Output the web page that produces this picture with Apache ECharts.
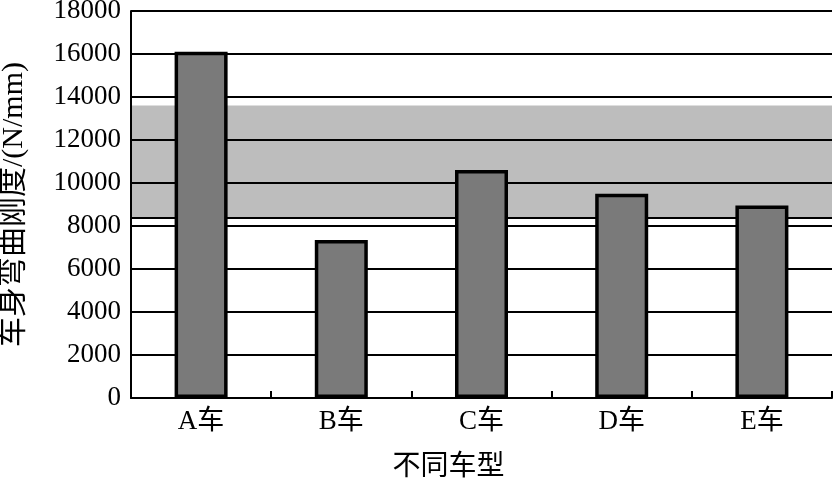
<!DOCTYPE html>
<html>
<head>
<meta charset="utf-8">
<script src="https://cdn.jsdelivr.net/npm/echarts@6/dist/echarts.min.js"></script>
<style>
html,body{margin:0;padding:0;background:#fff;}
#main{width:833px;height:487px;}
</style>
</head>
<body>
<div id="main"></div>
<script>
const categories = ['A车', 'B车', 'C车', 'D车', 'E车'];
const stiffness = [16100, 7350, 10600, 9500, 8950];
const bandRange = [8400, 13600];
const yTicks = { min: 0, max: 18000, interval: 2000 };
const xName = '不同车型';
const yName = '车身弯曲刚度/(N/mm)';

const FONT = '"Liberation Serif", "Noto Sans CJK SC", serif';

const chart = echarts.init(document.getElementById('main'));
chart.setOption({
  backgroundColor: '#ffffff',
  animation: false,
  grid: { left: 131, right: 1, top: 11, bottom: 89, containLabel: false, outerBoundsMode: 'none' },
  xAxis: {
    type: 'category',
    data: categories,
    name: xName,
    nameLocation: 'middle',
    nameGap: 56,
    nameTextStyle: { fontFamily: FONT, fontSize: 28, color: '#000', padding: [0, 66, 0, 0] },
    axisLine: { lineStyle: { color: '#000', width: 2 } },
    axisTick: { show: true, inside: true, length: 7, lineStyle: { color: '#000', width: 2 } },
    axisLabel: { fontFamily: FONT, fontSize: 27, color: '#000', margin: 10 },
    splitLine: { show: false }
  },
  yAxis: {
    type: 'value',
    min: yTicks.min,
    max: yTicks.max,
    interval: yTicks.interval,
    name: yName,
    nameLocation: 'middle',
    nameGap: 102,
    nameRotate: 90,
    nameTextStyle: { fontFamily: FONT, fontSize: 30, color: '#000' },
    axisLine: { show: true, lineStyle: { color: '#000', width: 2 } },
    axisTick: { show: false },
    axisLabel: { fontFamily: FONT, fontSize: 27, color: '#000', margin: 10, formatter: function (v) { return String(v); } },
    splitLine: { show: true, lineStyle: { color: '#000', width: 2 } }
  },
  series: [
    {
      type: 'bar',
      z: -1,
      data: [],
      silent: true,
      markArea: {
        silent: true,
        z: -1,
        itemStyle: { color: '#bdbdbd', borderWidth: 0 },
        data: [[{ yAxis: bandRange[0] }, { yAxis: bandRange[1] }]]
      },
      markLine: {
        silent: true,
        symbol: 'none',
        label: { show: false },
        lineStyle: { color: '#000', width: 2, type: 'solid' },
        data: [{ yAxis: bandRange[0] }]
      }
    },
    {
      type: 'bar',
      z: 5,
      data: stiffness,
      barWidth: 53,
      itemStyle: { color: '#7a7a7a', borderColor: '#000', borderWidth: 3.5 }
    }
  ]
});
</script>
</body>
</html>
